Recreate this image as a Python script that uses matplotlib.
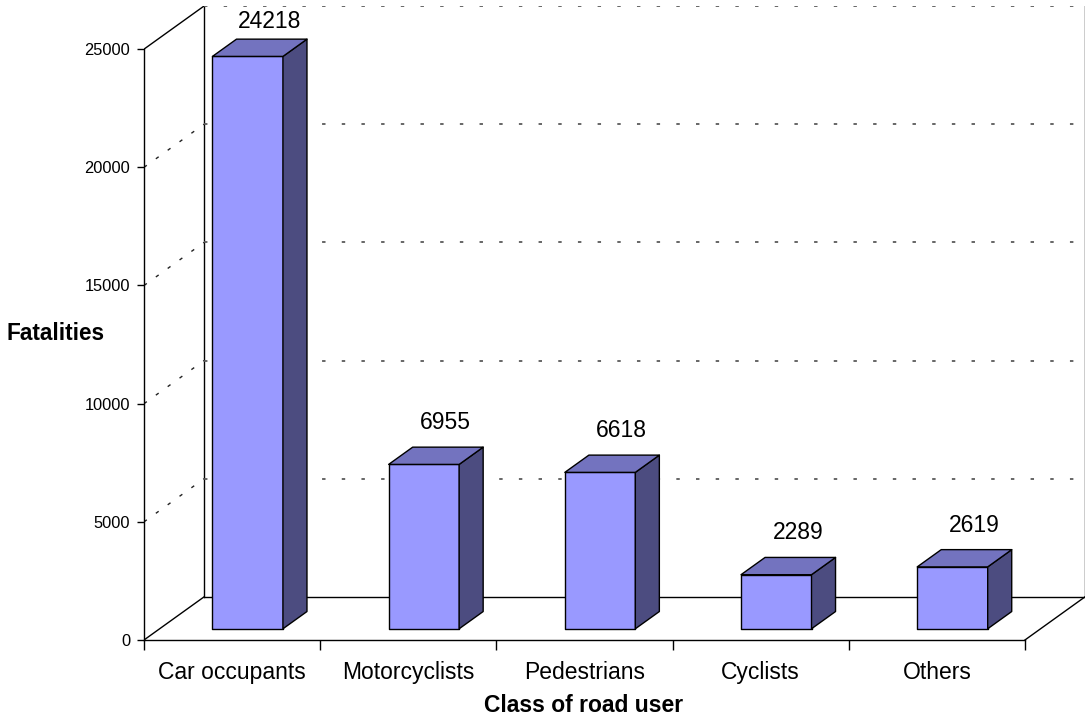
import numpy as np
import matplotlib.pyplot as plt
from matplotlib.patches import Polygon

plt.rcParams['font.family'] = ['Liberation Sans', 'DejaVu Sans']

# Datos
categories = ['Car occupants', 'Motorcyclists', 'Pedestrians', 'Cyclists', 'Others']
fatalities = [24218, 6955, 6618, 2289, 2619]
y_ticks = [0, 5000, 10000, 15000, 20000, 25000]

# Colores de las caras de la barra
c_front = '#9999ff'
c_top = '#7373bf'
c_side = '#4c4c80'

# Profundidad del efecto 3D (en unidades de datos)
n = len(categories)
ymax = 25000
DX = 60 / 176            # desplazamiento en categorias
DY = 43 / 589 * ymax     # desplazamiento en valor
d0, d1 = 0.26, 0.66      # profundidad de las barras
w0, w1 = 0.30, 0.70      # ancho de las barras dentro de la categoria

fig = plt.figure(figsize=(10.86, 7.19), dpi=100)
W, H = 1086, 719
ax = fig.add_axes([144 / W, 79 / H, 941 / W, 634 / H])
ax.set_xlim(0, n + DX)
ax.set_ylim(0, ymax + DY)
ax.patch.set_visible(False)

# Ejes frontales
ax.spines['top'].set_visible(False)
ax.spines['right'].set_visible(False)
ax.spines['left'].set_bounds(0, ymax)
ax.spines['bottom'].set_bounds(0, n)
for s in ('left', 'bottom'):
    ax.spines[s].set_linewidth(1.0)

ax.set_yticks(y_ticks)
ax.set_yticklabels([str(t) for t in y_ticks], fontsize=11.8)
ax.tick_params(axis='y', direction='out', length=5, width=1, pad=5)
ax.set_xticks(np.arange(n + 1))
ax.set_xticklabels([])
ax.tick_params(axis='x', which='major', direction='out', length=7.5, width=1)
ax.set_xticks(np.arange(n) + 0.5, minor=True)
ax.set_xticklabels(categories, minor=True, fontsize=16.5)
ax.tick_params(axis='x', which='minor', length=0, pad=15)

# Pared del fondo, suelo y pared lateral
kw = dict(color='black', lw=1.0, zorder=1)
ax.plot([DX, n + DX], [DY, DY], **kw)
ax.plot([0, DX], [0, DY], **kw)
ax.plot([n, n + DX], [0, DY], **kw)
ax.plot([0, DX], [ymax, ymax + DY], **kw)
ax.plot([DX, DX], [DY, ymax + DY], **kw)
ax.plot([n + DX, n + DX], [DY, ymax + DY], **kw)

for t in y_ticks[1:]:
    ax.plot([DX, n + DX], [t + DY, t + DY], color='#5a5a5a', lw=1.3,
            linestyle=(0, (1.9, 9.0)), zorder=1)
    if t < ymax:
        ax.plot([0, DX], [t, t + DY], color='#222222', lw=1.0,
                linestyle=(0, (2.5, 8)), zorder=1)

# Barras 3D
for i, v in enumerate(fatalities):
    xa = i + w0 + d0 * DX
    xb = i + w1 + d0 * DX
    xc = i + w1 + d1 * DX
    xd = i + w0 + d1 * DX
    ya = d0 * DY
    yb = d1 * DY
    front = [(xa, ya), (xb, ya), (xb, v + ya), (xa, v + ya)]
    side = [(xb, ya), (xc, yb), (xc, v + yb), (xb, v + ya)]
    top = [(xa, v + ya), (xb, v + ya), (xc, v + yb), (xd, v + yb)]
    for pts, col in ((front, c_front), (side, c_side), (top, c_top)):
        ax.add_patch(Polygon(pts, closed=True, facecolor=col, edgecolor='black',
                             lw=1.0, joinstyle='round', zorder=3))
    ylab = min(v + yb + 1040, 26190)
    ax.text(i + 0.5 + 0.62 * DX, ylab, str(v), ha='center', va='center',
            fontsize=16.5, zorder=4)

fig.text(56 / W, 1 - 333 / H, 'Fatalities', ha='center', va='center',
         fontsize=16.3, fontweight='bold')
fig.text(584 / W, 1 - 706 / H, 'Class of road user', ha='center', va='center',
         fontsize=16.5, fontweight='bold')

fig.savefig('out.png', dpi=100)
